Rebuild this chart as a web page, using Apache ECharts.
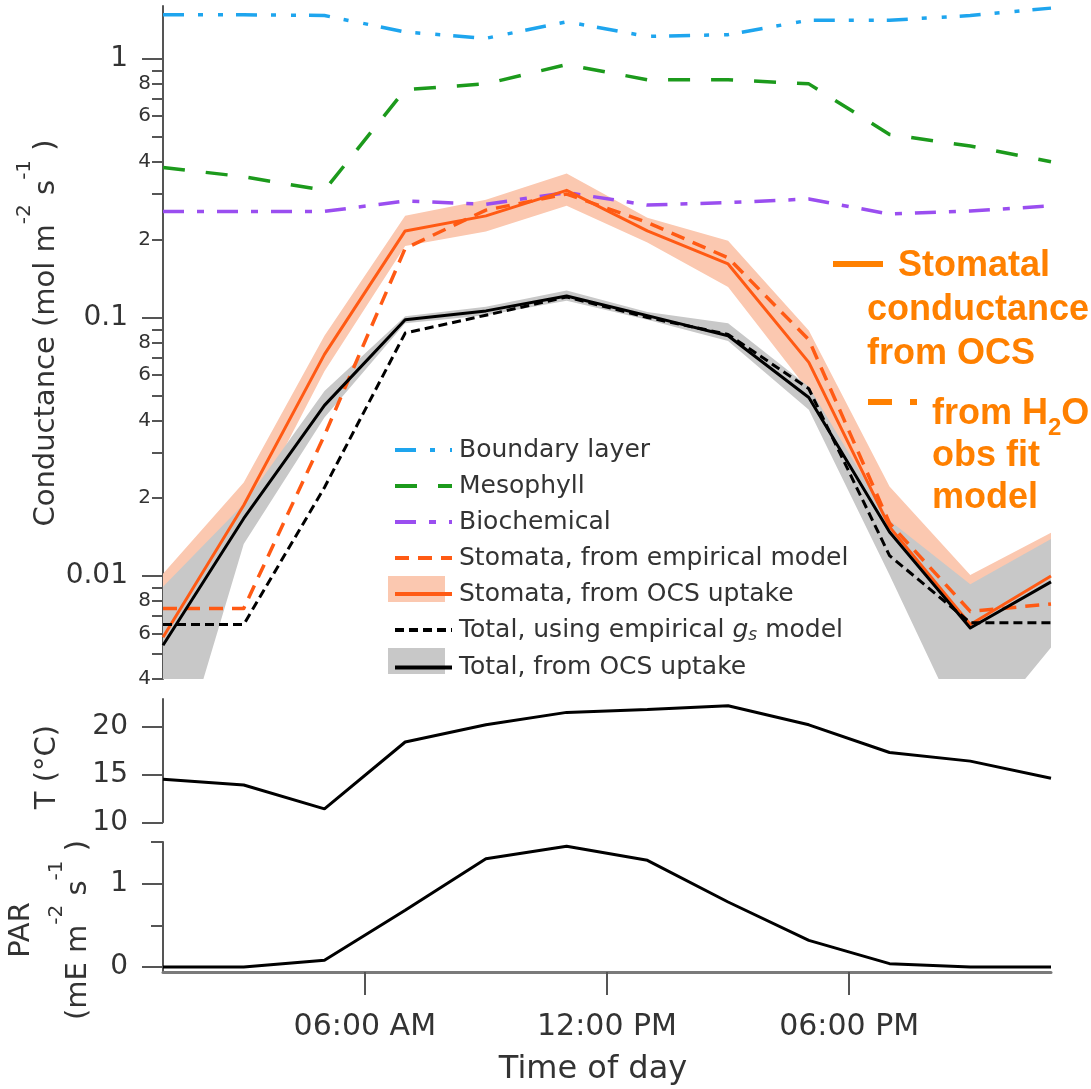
<!DOCTYPE html>
<html>
<head>
<meta charset="utf-8">
<script src="https://cdn.jsdelivr.net/npm/echarts@6/dist/echarts.min.js"></script>
<style>
  html, body { margin: 0; background: #fff; }
  #chart { width: 1091px; height: 1089px; }
</style>
</head>
<body>
<div id="chart"></div>
<script>
// hours of the day (every 2 h)
const hours = [1, 3, 5, 7, 9, 11, 13, 15, 17, 19, 21, 23];

// conductances, mol m-2 s-1
const boundaryLayer = [1.48, 1.48, 1.47, 1.27, 1.20, 1.39, 1.22, 1.24, 1.41, 1.41, 1.47, 1.57];
const mesophyll = [0.38, 0.35, 0.31, 0.76, 0.80, 0.95, 0.83, 0.83, 0.80, 0.51, 0.46, 0.40];
const biochemical = [0.257, 0.257, 0.257, 0.282, 0.274, 0.304, 0.272, 0.278, 0.287, 0.251, 0.258, 0.270];
const stomataEmpirical = [0.0075, 0.0075, 0.035, 0.185, 0.26, 0.30, 0.233, 0.170, 0.082, 0.016, 0.0073, 0.0078];
const stomataOcs = [0.0058, 0.0188, 0.072, 0.216, 0.247, 0.310, 0.216, 0.161, 0.067, 0.0155, 0.0065, 0.0100];
const stomataOcsUpper = [0.0102, 0.023, 0.085, 0.247, 0.285, 0.36, 0.243, 0.198, 0.089, 0.0222, 0.0101, 0.0147];
const stomataOcsLower = [0.0035, 0.0155, 0.062, 0.189, 0.215, 0.27, 0.195, 0.131, 0.052, 0.011, 0.0045, 0.0072];
const totalEmpirical = [0.0065, 0.0065, 0.022, 0.087, 0.102, 0.12, 0.100, 0.086, 0.053, 0.012, 0.0066, 0.0066];
const totalOcs = [0.0054, 0.0167, 0.0457, 0.098, 0.106, 0.121, 0.1016, 0.085, 0.049, 0.0148, 0.0063, 0.0095];
const totalOcsUpper = [0.0091, 0.019, 0.052, 0.101, 0.110, 0.127, 0.105, 0.095, 0.054, 0.0164, 0.0093, 0.0139];
const totalOcsLower = [0.0012, 0.0133, 0.041, 0.095, 0.102, 0.116, 0.098, 0.081, 0.044, 0.0101, 0.0022, 0.0053];

// temperature (°C) and PAR (mE m-2 s-1)
const temperature = [14.5, 13.9, 11.4, 18.4, 20.2, 21.5, 21.8, 22.2, 20.2, 17.3, 16.4, 14.6];
const par = [0, 0, 0.08, 0.68, 1.30, 1.45, 1.28, 0.78, 0.32, 0.04, 0, 0];

// ticks
const timeTicks = [6, 12, 18];
const timeLabels = ['06:00 AM', '12:00 PM', '06:00 PM'];
const condMajor = [0.01, 0.1, 1];
const condMinor = [0.004, 0.005, 0.006, 0.007, 0.008, 0.009,
  0.02, 0.03, 0.04, 0.05, 0.06, 0.07, 0.08, 0.09,
  0.2, 0.3, 0.4, 0.5, 0.6, 0.7, 0.8, 0.9];
const condMinorLabeled = [0.004, 0.006, 0.008, 0.02, 0.04, 0.06, 0.08, 0.2, 0.4, 0.6, 0.8];
const tempTicks = [10, 15, 20];
const parMajor = [0, 1];
const parMinor = [0.5, 1.5];

const legendNames = [
  'Boundary layer', 'Mesophyll', 'Biochemical', 'Stomata, from empirical model',
  'Stomata, from OCS uptake', 'Total, using empirical gs model', 'Total, from OCS uptake'
];

const lg = (arr) => arr.map((v) => Math.log10(v));
const diff = (up, lo) => up.map((v, i) => Math.log10(v) - Math.log10(lo[i]));
const pairs = (arr) => hours.map((h, i) => [h, arr[i]]);

const FONT = 'DejaVu Sans';
const AXIS = '#555';
const TXT = '#333';
const ORANGE = '#ff5a14';
const NOTE = '#ff8000';

const chart = echarts.init(document.getElementById('chart'));

const line = (name, data, color, width, type) => ({
  name, type: 'line', xAxisIndex: 0, yAxisIndex: 0, data,
  symbol: 'none', color,
  lineStyle: { color, width, type, cap: 'butt', join: 'round' },
  emphasis: { disabled: true }, silent: true,
});
const band = (id, lower, upper, color) => [
  {
    type: 'line', xAxisIndex: 0, yAxisIndex: 0, data: lg(lower),
    stack: id, stackStrategy: 'all', symbol: 'none',
    lineStyle: { width: 0 }, silent: true,
  },
  {
    type: 'line', xAxisIndex: 0, yAxisIndex: 0, data: diff(upper, lower),
    stack: id, stackStrategy: 'all', symbol: 'none',
    lineStyle: { width: 0 }, areaStyle: { color, opacity: 1 }, silent: true,
  },
];

const yMin = Math.log10(0.004);
const yMax = Math.log10(1.6);

const tick = (values, length) => ({
  show: true, customValues: values, length, lineStyle: { color: AXIS, width: 2 },
});

const supRich = (size) => ({
  m: { fontSize: size, fontFamily: FONT, lineHeight: 62, fill: TXT },
  s: { fontSize: 20, fontFamily: FONT, height: 20, verticalAlign: 'top', fill: TXT },
});

chart.setOption({
  animation: false,
  textStyle: { fontFamily: FONT },
  grid: [
    { left: 163, right: 40, top: 6, height: 673 },
    { left: 163, right: 40, top: 699, height: 123.3 },
    { left: 163, right: 40, top: 842, height: 130 },
  ],
  xAxis: [
    { gridIndex: 0, type: 'category', data: hours.map(String), boundaryGap: false, show: false },
    { gridIndex: 1, type: 'value', min: 1, max: 23, show: false },
    {
      gridIndex: 2, type: 'value', min: 1, max: 23,
      axisLine: { show: true, onZero: false, lineStyle: { color: '#7a7a7a', width: 3 } },
      axisTick: tick(timeTicks, 23),
      axisLabel: {
        customValues: timeTicks, margin: 40, fontSize: 30, color: TXT,
        formatter: (v) => timeLabels[timeTicks.indexOf(v)],
      },
      splitLine: { show: false },
      name: 'Time of day', nameLocation: 'middle', nameGap: 82,
      nameTextStyle: { fontSize: 32, color: TXT, padding: [0, 28, 0, 0] },
    },
  ],
  yAxis: [
    {
      gridIndex: 0, type: 'value', position: 'left', min: yMin, max: yMax,
      axisLine: { show: true, onZero: false, lineStyle: { color: AXIS, width: 2 } },
      axisTick: tick(lg(condMajor), 21),
      axisLabel: {
        customValues: lg(condMajor), margin: 35, fontSize: 28, color: TXT,
        formatter: (v) => String(Number(Math.pow(10, v).toPrecision(1))),
      },
      splitLine: { show: false },
    },
    {
      gridIndex: 0, type: 'value', position: 'left', min: yMin, max: yMax,
      axisLine: { show: false },
      axisTick: tick(lg(condMinor), 11),
      axisLabel: {
        customValues: lg(condMinorLabeled), margin: 12, fontSize: 20, color: TXT,
        formatter: (v) => Math.pow(10, v).toPrecision(1).replace(/^0\.0*/, '').charAt(0),
      },
      splitLine: { show: false },
    },
    {
      gridIndex: 1, type: 'value', position: 'left', min: 10, max: 22.9,
      axisLine: { show: true, onZero: false, lineStyle: { color: AXIS, width: 2 } },
      axisTick: tick(tempTicks, 21),
      axisLabel: { customValues: tempTicks, margin: 35, fontSize: 28, color: TXT },
      splitLine: { show: false },
    },
    {
      gridIndex: 2, type: 'value', position: 'left', min: -0.06, max: 1.5,
      axisLine: { show: true, onZero: false, lineStyle: { color: AXIS, width: 2 } },
      axisTick: tick(parMajor, 21),
      axisLabel: { customValues: parMajor, margin: 35, fontSize: 28, color: TXT },
      splitLine: { show: false },
    },
    {
      gridIndex: 2, type: 'value', position: 'left', min: -0.06, max: 1.5,
      axisLine: { show: false },
      axisTick: tick(parMinor, 12),
      axisLabel: { show: false },
      splitLine: { show: false },
    },
  ],
  legend: {
    orient: 'vertical', left: 388, top: 432,
    itemWidth: 57, itemHeight: 26, itemGap: 10,
    selectedMode: false,
    data: legendNames,
    itemStyle: { opacity: 0 },
    lineStyle: { width: 4 },
    formatter: (name) => name === 'Total, using empirical gs model'
      ? '{n|Total, using empirical }{i|g}{s|s}{n| model}'
      : '{n|' + name + '}',
    textStyle: {
      fontSize: 25, color: TXT, lineHeight: 26, padding: [0, 0, 0, 2],
      rich: {
        n: { fontSize: 25, lineHeight: 26, color: TXT },
        i: { fontSize: 25, lineHeight: 26, fontStyle: 'italic', color: TXT },
        s: { fontSize: 17, height: 14, fontStyle: 'italic', verticalAlign: 'bottom', color: TXT },
      },
    },
  },
  series: [
    ...band('ocs', stomataOcsLower, stomataOcsUpper, '#fbc8b0'),
    ...band('tot', totalOcsLower, totalOcsUpper, '#c8c8c8'),
    line('Boundary layer', lg(boundaryLayer), '#1ea5ee', 3.5, [21, 14, 5, 15, 5, 13]),
    line('Mesophyll', lg(mesophyll), '#1c9a1c', 3.5, [22, 21]),
    line('Biochemical', lg(biochemical), '#9a4ef0', 3.5, [21, 13, 7, 13]),
    line('Stomata, from empirical model', lg(stomataEmpirical), ORANGE, 3.5, [14, 9]),
    line('Stomata, from OCS uptake', lg(stomataOcs), ORANGE, 3, 'solid'),
    line('Total, using empirical gs model', lg(totalEmpirical), '#000', 3, [9, 5]),
    line('Total, from OCS uptake', lg(totalOcs), '#000', 3, 'solid'),
    {
      type: 'line', xAxisIndex: 1, yAxisIndex: 2, data: pairs(temperature),
      symbol: 'none', lineStyle: { color: '#000', width: 3 }, silent: true,
    },
    {
      type: 'line', xAxisIndex: 2, yAxisIndex: 3, data: pairs(par),
      symbol: 'none', lineStyle: { color: '#000', width: 3 }, silent: true,
    },
  ],
  graphic: [
    // band swatches behind the legend lines
    { type: 'rect', z: 1, shape: { x: 388, y: 432 + 4 * 36, width: 57, height: 26 }, style: { fill: '#fbc8b0' } },
    { type: 'rect', z: 1, shape: { x: 388, y: 432 + 6 * 36, width: 57, height: 26 }, style: { fill: '#c8c8c8' } },
    // y titles
    {
      type: 'text', x: 46, y: 333, rotation: Math.PI / 2,
      style: {
        text: '{m|Conductance (mol m}{s|-2}{m| s}{s|-1}{m| )}',
        rich: supRich(29), align: 'center', textAlign: 'center',
        verticalAlign: 'middle', textVerticalAlign: 'middle', fill: TXT,
      },
    },
    {
      type: 'text', x: 47, y: 767, rotation: Math.PI / 2,
      style: {
        text: 'T (°C)', font: '29px "DejaVu Sans"', fill: TXT,
        align: 'center', textAlign: 'center', verticalAlign: 'middle', textVerticalAlign: 'middle',
      },
    },
    {
      type: 'text', x: 21, y: 930, rotation: Math.PI / 2,
      style: {
        text: 'PAR', font: '29px "DejaVu Sans"', fill: TXT,
        align: 'center', textAlign: 'center', verticalAlign: 'middle', textVerticalAlign: 'middle',
      },
    },
    {
      type: 'text', x: 78, y: 930, rotation: Math.PI / 2,
      style: {
        text: '{m|(mE m}{s|-2}{m| s}{s|-1}{m| )}',
        rich: supRich(29), align: 'center', textAlign: 'center',
        verticalAlign: 'middle', textVerticalAlign: 'middle', fill: TXT,
      },
    },
    // orange annotation
    { type: 'line', shape: { x1: 833, y1: 264, x2: 883, y2: 264 }, style: { stroke: NOTE, lineWidth: 6 } },
    { type: 'line', shape: { x1: 868, y1: 402, x2: 892, y2: 402 }, style: { stroke: NOTE, lineWidth: 6 } },
    { type: 'line', shape: { x1: 910, y1: 402, x2: 917, y2: 402 }, style: { stroke: NOTE, lineWidth: 6 } },
    ...[['Stomatal', 898, 266], ['conductance', 867, 310], ['from OCS', 867, 354],
      ['obs fit', 932, 456], ['model', 932, 498]].map(([t, x, y]) => ({
      type: 'text', x, y,
      style: {
        text: t, font: 'bold 36px "Liberation Sans"', fill: NOTE,
        align: 'left', textAlign: 'left', verticalAlign: 'middle', textVerticalAlign: 'middle',
      },
    })),
    {
      type: 'text', x: 932, y: 414,
      style: {
        text: '{a|from H}{b|2}{a|O}',
        rich: {
          a: { font: 'bold 36px "Liberation Sans"', lineHeight: 48, fill: NOTE },
          b: { font: 'bold 24px "Liberation Sans"', height: 20, verticalAlign: 'bottom', fill: NOTE },
        },
        align: 'left', textAlign: 'left', verticalAlign: 'middle', textVerticalAlign: 'middle',
      },
    },
  ],
});
</script>
</body>
</html>
